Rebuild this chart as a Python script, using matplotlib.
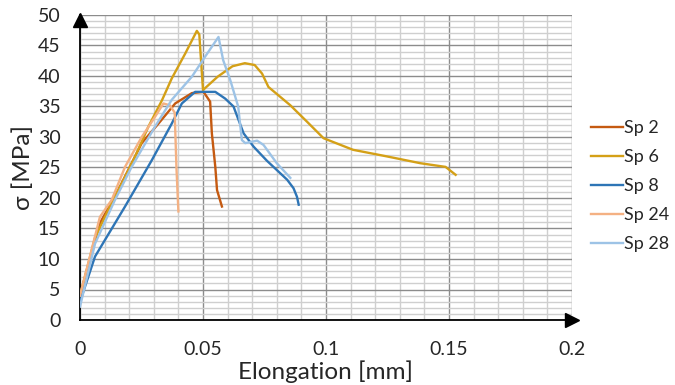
import matplotlib.pyplot as plt

# stress-elongation curves
sp2_x = [0, 0.0081, 0.0149, 0.0251, 0.0319, 0.0387, 0.0455, 0.0502, 0.0529, 0.0536, 0.055, 0.0557, 0.0577]
sp2_y = [4.0, 15.9, 20.8, 29.0, 32.2, 35.5, 37.2, 37.4, 35.8, 30.6, 25.1, 21.3, 18.6]

sp6_x = [0, 0.0061, 0.0129, 0.017, 0.0224, 0.0278, 0.0333, 0.0373, 0.0428, 0.0475, 0.0485, 0.050,
         0.056, 0.062, 0.067, 0.071, 0.074, 0.0766, 0.0855, 0.0923, 0.099, 0.111, 0.125, 0.1384, 0.1486, 0.1527]
sp6_y = [4.0, 13.5, 19.2, 22.4, 26.8, 31.7, 36.0, 39.6, 43.7, 47.4, 46.8, 37.7,
         39.9, 41.6, 42.1, 41.8, 40.4, 38.2, 35.2, 32.5, 29.8, 27.9, 26.8, 25.7, 25.1, 23.8]

sp8_x = [0, 0.0061, 0.0183, 0.0292, 0.0373, 0.0414, 0.0468, 0.055, 0.059, 0.0624, 0.0665, 0.0706,
         0.076, 0.0842, 0.0868, 0.0882, 0.0889]
sp8_y = [3.0, 10.4, 18.6, 26.2, 32.2, 35.5, 37.4, 37.4, 36.3, 35.0, 30.6, 28.4,
         26.1, 23.0, 21.6, 20.2, 18.9]

sp24_x = [0, 0.0081, 0.0129, 0.0183, 0.0251, 0.0305, 0.0339, 0.0365, 0.0385, 0.0392, 0.040]
sp24_y = [4.0, 16.9, 19.7, 25.1, 30.0, 33.3, 35.5, 35.2, 34.0, 25.0, 17.8]

sp28_x = [0, 0.0061, 0.0140, 0.021, 0.0305, 0.0373, 0.0455, 0.0509, 0.0563, 0.0582, 0.0611, 0.0643,
          0.0658, 0.0672, 0.072, 0.0746, 0.08, 0.0855]
sp28_y = [2.2, 12.5, 19.5, 25.1, 31.7, 36.1, 39.9, 43.2, 46.4, 42.6, 39.3, 35.0,
          29.5, 29.0, 29.4, 28.7, 25.7, 23.3]

series = [
    ("Sp 2", sp2_x, sp2_y, "#C55A11"),
    ("Sp 6", sp6_x, sp6_y, "#D4A017"),
    ("Sp 8", sp8_x, sp8_y, "#2E75B6"),
    ("Sp 24", sp24_x, sp24_y, "#F4B183"),
    ("Sp 28", sp28_x, sp28_y, "#9DC3E6"),
]

x_ticks = [0, 0.05, 0.1, 0.15, 0.2]
x_labels = ["0", "0.05", "0.1", "0.15", "0.2"]
y_ticks = list(range(0, 51, 5))

plt.rcParams['font.family'] = ['Lato', 'DejaVu Sans']

fig = plt.figure(figsize=(6.75, 3.85), dpi=100)
ax = fig.add_axes([80 / 675, 65 / 385, 492 / 675, 305 / 385])

for name, xs, ys, col in series:
    ax.plot(xs, ys, color=col, lw=1.7, label=name, zorder=3)

ax.set_xlim(0, 0.2)
ax.set_ylim(0, 50)
ax.set_xticks(x_ticks)
ax.set_xticklabels(x_labels)
ax.set_yticks(y_ticks)
ax.set_xticks([i / 100 for i in range(21)], minor=True)
ax.set_yticks(range(51), minor=True)
ax.grid(which='major', color='#8c8c8c', lw=1.0, zorder=0)
ax.grid(which='minor', color='#cfcfcf', lw=1.0, zorder=0)
ax.tick_params(which='both', length=0, labelsize=14, colors='#262626')
ax.tick_params(axis='x', pad=15)
ax.tick_params(axis='y', pad=14)

ax.spines['top'].set_visible(False)
ax.spines['right'].set_visible(False)
ax.spines['left'].set_color('black')
ax.spines['bottom'].set_color('black')
ax.spines['left'].set_linewidth(1.3)
ax.spines['bottom'].set_linewidth(1.3)

# arrow heads on the axes
ax.plot([0], [0.985], marker='^', color='black', markersize=10, transform=ax.transAxes, clip_on=False)
ax.plot([1.0], [0], marker='>', color='black', markersize=10, transform=ax.transAxes, clip_on=False)

ax.set_xlabel("Elongation [mm]", fontsize=17.5, color='#262626', labelpad=2)
ax.set_ylabel("σ [MPa]", fontsize=17.5, color='#262626', labelpad=3)

handles, labels = ax.get_legend_handles_labels()
fig.legend(handles, labels, loc='center left', bbox_to_anchor=(582 / 675, 0.516), frameon=False,
           fontsize=13, borderpad=0, handlelength=1.75, handletextpad=0.05, labelspacing=0.72,
           labelcolor='#262626')

fig.savefig("out.png", dpi=100)
